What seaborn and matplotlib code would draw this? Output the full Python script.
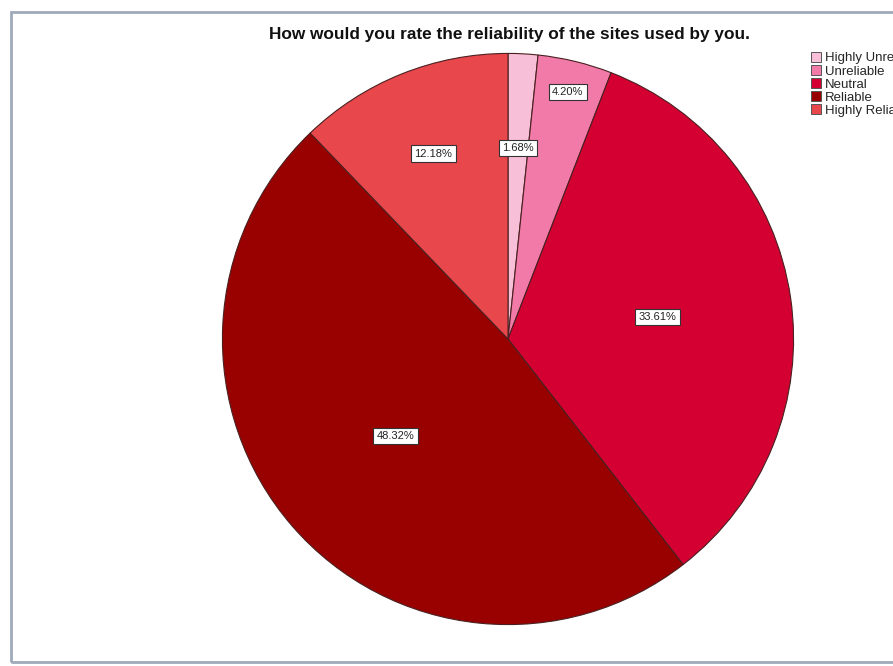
import matplotlib
matplotlib.use("Agg")
import matplotlib.pyplot as plt
from matplotlib.patches import Rectangle, Patch
import numpy as np
import seaborn as sns

# Survey answers and their shares (percent of respondents)
categories = ["Highly Unreliable", "Unreliable", "Neutral", "Reliable", "Highly Reliable"]
shares = [1.68, 4.20, 33.61, 48.32, 12.18]
colors = ["#f8bfd8", "#f27aa9", "#d50032", "#990000", "#e8474c"]
# radial placement of each percentage box (fraction of the radius)
label_radius = [0.67, 0.89, 0.53, 0.52, 0.70]
title = "How would you rate the reliability of the sites used by you."

sns.set_theme(style="white")
plt.rcParams["font.family"] = ["Liberation Sans", "DejaVu Sans"]

W, H = 893, 666
fig = plt.figure(figsize=(W / 100, H / 100), dpi=100)
fig.patch.set_facecolor("white")

# chart frame
fig.add_artist(Rectangle((11 / W, 4 / H), (W + 20) / W, (H - 16) / H,
                         transform=fig.transFigure, fill=False,
                         edgecolor="#9ea9b9", linewidth=2.0))

cx, cy, r = 508, 339, 287
ax = fig.add_axes([(cx - r) / W, (H - cy - r) / H, 2 * r / W, 2 * r / H])
wedges, _ = ax.pie(shares, colors=colors, startangle=90, counterclock=False,
                   radius=1.0,
                   wedgeprops=dict(edgecolor="#4a2020", linewidth=0.8))
ax.set_xlim(-1.005, 1.005)
ax.set_ylim(-1.005, 1.005)
ax.set_aspect("equal")
ax.axis("off")

for w, val, lr in zip(wedges, shares, label_radius):
    mid = np.deg2rad((w.theta1 + w.theta2) / 2)
    ax.text(lr * np.cos(mid), lr * np.sin(mid), f"{val:.2f}%",
            ha="center", va="center", fontsize=8, color="#222222",
            bbox=dict(boxstyle="square,pad=0.3", facecolor="white",
                      edgecolor="#333333", linewidth=0.8))

fig.text(509 / W, 1 - 34 / H, title, ha="center", va="center",
         fontsize=12.4, fontweight="bold", color="#111111")

handles = [Patch(facecolor=c, edgecolor="#555555", linewidth=0.7) for c in colors]
fig.legend(handles, categories, loc="upper left",
           bbox_to_anchor=(811 / W, 1 - 52 / H), frameon=False,
           fontsize=9.5, handlelength=0.75, handleheight=0.75,
           handletextpad=0.3, labelspacing=0.05, borderaxespad=0,
           borderpad=0)

fig.savefig("out.png", dpi=100)
